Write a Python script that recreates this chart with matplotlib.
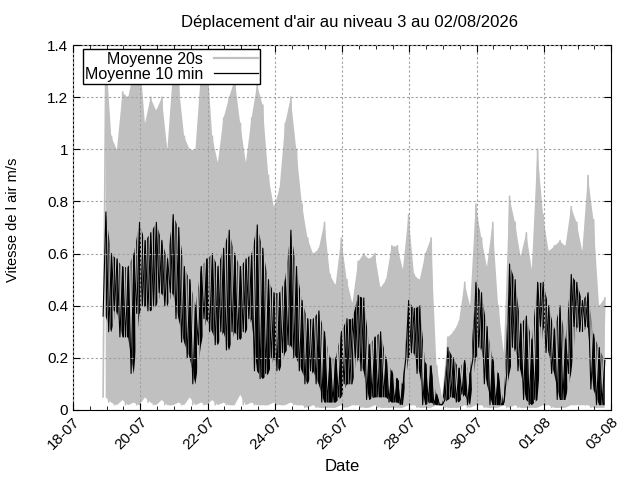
import numpy as np
import pandas as pd
import matplotlib
matplotlib.use("Agg")
import matplotlib.pyplot as plt
import matplotlib.dates as mdates
from matplotlib.ticker import FormatStrFormatter
from matplotlib.lines import Line2D

plt.rcParams['font.family'] = ['Liberation Sans', 'DejaVu Sans']

# 4-hour bins starting 18-07 21:00
start = "2026-07-18 21:00"
n_bins = 90

# Moyenne 20s : low / high of each bin
gray_hi = [1.38, 1.05, 1.00, 1.22, 1.20, 1.30, 1.38, 1.10, 1.20, 1.15,
           1.20, 1.00, 1.30, 1.25, 1.05, 1.00, 1.00, 1.30, 1.38, 1.05,
           0.95, 1.12, 1.20, 1.27, 1.10, 0.95, 1.12, 1.25, 1.17, 0.90,
           0.78, 0.85, 1.10, 1.20, 1.00, 0.79, 0.66, 0.60, 0.62, 0.72,
           0.52, 0.48, 0.66, 0.50, 0.41, 0.57, 0.60, 0.58, 0.60, 0.47,
           0.50, 0.63, 0.63, 0.54, 0.75, 0.52, 0.50, 0.60, 0.66, 0.17,
           0.05, 0.28, 0.30, 0.34, 0.49, 0.40, 0.79, 0.66, 0.55, 0.72,
           0.40, 0.22, 0.82, 0.72, 0.59, 0.68, 0.54, 1.00, 0.75, 0.61,
           0.63, 0.65, 0.63, 0.78, 0.72, 0.61, 0.90, 0.73, 0.40, 0.43]
gray_lo = [0.05, 0.03, 0.02, 0.04, 0.02, 0.03, 0.02, 0.05, 0.03, 0.02,
           0.04, 0.02, 0.02, 0.03, 0.02, 0.05, 0.02, 0.03, 0.02, 0.04,
           0.02, 0.03, 0.02, 0.02, 0.06, 0.02, 0.03, 0.02, 0.02, 0.02,
           0.03, 0.02, 0.02, 0.03, 0.02, 0.02, 0.01, 0.02, 0.01, 0.01,
           0.01, 0.01, 0.02, 0.01, 0.02, 0.02, 0.01, 0.01, 0.02, 0.01,
           0.01, 0.01, 0.01, 0.01, 0.02, 0.02, 0.01, 0.01, 0.01, 0.02,
           0.02, 0.01, 0.01, 0.01, 0.02, 0.01, 0.02, 0.02, 0.01, 0.01,
           0.01, 0.02, 0.01, 0.02, 0.01, 0.01, 0.01, 0.01, 0.02, 0.02,
           0.01, 0.01, 0.01, 0.02, 0.02, 0.02, 0.02, 0.01, 0.01, 0.01]

# Moyenne 10 min : low / high of each bin
black_lo = [0.36, 0.30, 0.38, 0.28, 0.28, 0.14, 0.37, 0.40, 0.38, 0.40,
            0.45, 0.40, 0.45, 0.35, 0.26, 0.20, 0.10, 0.25, 0.35, 0.30,
            0.25, 0.30, 0.23, 0.30, 0.27, 0.30, 0.35, 0.15, 0.12, 0.14,
            0.20, 0.15, 0.22, 0.25, 0.20, 0.15, 0.10, 0.15, 0.10, 0.03,
            0.03, 0.03, 0.05, 0.10, 0.10, 0.20, 0.15, 0.04, 0.05, 0.05,
            0.05, 0.03, 0.03, 0.02, 0.20, 0.22, 0.14, 0.02, 0.03, 0.02,
            0.02, 0.04, 0.05, 0.03, 0.06, 0.02, 0.20, 0.24, 0.10, 0.02,
            0.02, 0.02, 0.14, 0.24, 0.15, 0.04, 0.02, 0.04, 0.32, 0.22,
            0.14, 0.04, 0.04, 0.14, 0.32, 0.30, 0.32, 0.08, 0.02, 0.02]
black_hi = [0.76, 0.60, 0.58, 0.55, 0.55, 0.60, 0.72, 0.65, 0.68, 0.72,
            0.65, 0.58, 0.75, 0.70, 0.55, 0.50, 0.40, 0.55, 0.58, 0.60,
            0.55, 0.62, 0.69, 0.60, 0.55, 0.58, 0.60, 0.71, 0.62, 0.50,
            0.45, 0.45, 0.50, 0.69, 0.55, 0.42, 0.35, 0.35, 0.38, 0.30,
            0.20, 0.20, 0.30, 0.35, 0.35, 0.44, 0.43, 0.25, 0.28, 0.30,
            0.20, 0.15, 0.12, 0.10, 0.42, 0.39, 0.40, 0.18, 0.17, 0.06,
            0.02, 0.24, 0.20, 0.16, 0.19, 0.14, 0.49, 0.45, 0.32, 0.20,
            0.14, 0.03, 0.56, 0.50, 0.33, 0.36, 0.27, 0.49, 0.49, 0.40,
            0.31, 0.40, 0.27, 0.52, 0.49, 0.42, 0.45, 0.29, 0.24, 0.19]

bins = pd.date_range(start, periods=n_bins, freq="4h")
centres = (bins + pd.Timedelta(hours=2)).values
t = np.empty(2 * n_bins, dtype="datetime64[ns]")
t[0::2] = (bins + pd.Timedelta(hours=0.5)).values
t[1::2] = (bins + pd.Timedelta(hours=2.5)).values

def zigzag(lo, hi):
    v = np.empty(2 * len(lo))
    v[0::2] = lo
    v[1::2] = hi
    return v

gray = "#c0c0c0"

fig = plt.figure(figsize=(6.4, 4.8), dpi=100)
ax = fig.add_axes([0.114, 0.146, 0.841, 0.760])

# the 20 s series is so dense it reads as a band between its lows and highs
ax.fill_between(centres, gray_lo, gray_hi, color=gray, lw=0)
ax.plot(t, zigzag(gray_lo, gray_hi), color=gray, lw=1.2)
ax.fill_between(centres, black_lo, black_hi, color="black", lw=0)
ax.plot(t, zigzag(black_lo, black_hi), color="black", lw=0.8)

ax.set_xlim(pd.Timestamp("2026-07-18"), pd.Timestamp("2026-08-03"))
ax.set_ylim(0, 1.4)
ax.xaxis.set_major_locator(mdates.DayLocator(bymonthday=[18, 20, 22, 24, 26, 28, 30, 1, 3]))
ax.xaxis.set_minor_locator(mdates.HourLocator(byhour=[0, 12]))
ax.xaxis.set_major_formatter(mdates.DateFormatter("%d-%m"))
ax.set_yticks(np.arange(0, 1.41, 0.2))
ax.yaxis.set_major_formatter(FormatStrFormatter("%g"))

ax.tick_params(which="both", direction="in", top=True, right=True, labelsize=11)
ax.tick_params(which="major", length=5)
ax.tick_params(which="minor", length=3)
for lab in ax.get_xticklabels():
    lab.set_rotation(45)
    lab.set_ha("right")
    lab.set_rotation_mode("anchor")

ax.grid(True, which="major", color="#a0a0a0", lw=0.8, ls=(0, (2, 2)))
ax.set_axisbelow(False)

ax.set_title("Déplacement d'air au niveau 3 au 02/08/2026", fontsize=12, pad=13, x=0.513)
ax.set_xlabel("Date", fontsize=12, labelpad=5)
ax.set_ylabel("Vitesse de l air m/s", fontsize=10.5)
ax.yaxis.set_label_coords(-0.098, 0.52)

handles = [Line2D([], [], color=gray, lw=1.6), Line2D([], [], color="black", lw=0.9)]
leg = ax.legend(handles, ["Moyenne 20s", "Moyenne 10 min"], loc="upper left",
                bbox_to_anchor=(0.018, 0.989), borderaxespad=0,
                markerfirst=False, fancybox=False, framealpha=1, edgecolor="black",
                fontsize=11.5, handlelength=2.7, borderpad=0.15, labelspacing=0.0,
                handletextpad=0.7)
leg.get_frame().set_linewidth(1.0)
for txt in leg.get_texts():
    txt.set_ha("right")
leg._legend_box.align = "right"

fig.savefig("out.png", dpi=100)
